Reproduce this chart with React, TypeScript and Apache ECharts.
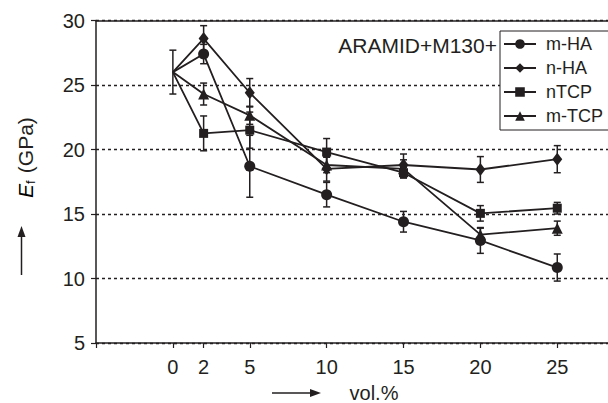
import React, { useEffect, useRef } from "react";
import * as echarts from "echarts";

const xValues = [0, 2, 5, 10, 15, 20, 25];
const seriesNames = ["m-HA", "n-HA", "nTCP", "m-TCP"];
const mHA = [26, 27.4, 18.7, 16.5, 14.4, 12.95, 10.85];
const mHAErr = [1.7, 0.75, 2.4, 0.95, 0.8, 1.0, 1.05];
const nHA = [26, 28.6, 24.4, 18.5, 18.8, 18.45, 19.25];
const nHAErr = [1.7, 1.0, 1.1, 0.95, 0.85, 1.0, 1.05];
const nTCP = [26, 21.25, 21.5, 19.8, 18.2, 15.05, 15.45];
const nTCPErr = [1.7, 1.35, 1.4, 1.05, 0.4, 0.6, 0.45];
const mTCP = [26, 24.3, 22.65, 18.8, 18.5, 13.4, 13.9];
const mTCPErr = [1.7, 0.85, 0.7, 0.6, 0.7, 0.5, 0.55];
const xTicks = [-5, 0, 2, 5, 10, 15, 20, 25];
const xLabels = [0, 2, 5, 10, 15, 20, 25];
const annotation = "ARAMID+M130+";
const xName = "vol.%";

const C = "#231f20";
const FONT = "'Liberation Sans', Arial, Helvetica, sans-serif";

const allValues = [mHA, nHA, nTCP, mTCP];
const allErr = [mHAErr, nHAErr, nTCPErr, mTCPErr];
const symbols = ["circle", "diamond", "rect", "triangle"];
const symbolSizes: any[] = [11, [10, 13], 9, 11];

export default function App() {
  const ref = useRef<HTMLDivElement>(null);
  useEffect(() => {
    if (!ref.current) return;
    const chart = echarts.init(ref.current, undefined, { renderer: "svg" });

    const errData: number[][] = [];
    allValues.forEach((vals, si) => {
      vals.forEach((v, i) => {
        if (i === 0 && si > 0) return;
        errData.push([xValues[i], v - allErr[si][i], v + allErr[si][i]]);
      });
    });

    const lineSeries = allValues.map((vals, si) => ({
      name: seriesNames[si],
      type: "line",
      symbol: symbols[si],
      symbolSize: symbolSizes[si],
      lineStyle: { color: C, width: 1.8 },
      itemStyle: { color: C },
      z: 3,
      data: vals.map((v, i) =>
        i === 0 ? { value: [xValues[i], v], symbol: "none" } : { value: [xValues[i], v] }
      ),
    }));

    const option: any = {
      animation: false,
      grid: { left: 96, right: 0, top: 20.5, bottom: 60, containLabel: false },
      legend: {
        data: seriesNames,
        orient: "vertical",
        left: 500,
        top: 31,
        z: 10,
        itemWidth: 32,
        itemHeight: 12,
        itemGap: 6,
        backgroundColor: "#fff",
        borderColor: C,
        borderWidth: 1,
        borderRadius: 0,
        padding: [4, 30, 5, 3],
        textStyle: { fontSize: 18, color: C, fontFamily: FONT, padding: [0, 0, 0, 5] },
      },
      xAxis: [
        {
          type: "value",
          min: -5,
          max: 28.3,
          interval: 5,
          axisLine: { show: true, onZero: false, lineStyle: { color: C, width: 1.5 } },
          axisTick: { show: true, customValues: xTicks, length: 5, lineStyle: { color: C, width: 1.2 } },
          axisLabel: {
            show: true,
            customValues: xLabels,
            margin: 14,
            fontSize: 20,
            color: C,
            fontFamily: FONT,
          },
          splitLine: { show: false },
        },
        {
          type: "value",
          position: "top",
          min: -5,
          max: 28.3,
          interval: 5,
          axisLine: { show: true, lineStyle: { color: C, width: 1.5 } },
          axisTick: { show: false },
          axisLabel: { show: false },
          splitLine: { show: false },
        },
      ],
      yAxis: [
        {
          type: "value",
          min: 5,
          max: 30,
          interval: 5,
          axisLine: { show: true, onZero: false, lineStyle: { color: C, width: 1.5 } },
          axisTick: { show: true, length: 5, lineStyle: { color: C, width: 1.2 } },
          axisLabel: { margin: 11, fontSize: 20, color: C, fontFamily: FONT },
          splitLine: { show: true, lineStyle: { color: C, width: 1.4, type: [3, 3] } },
        },
        {
          type: "value",
          position: "left",
          min: 5,
          max: 30,
          interval: 5,
          axisLine: { show: false },
          axisTick: { show: true, inside: true, length: 4, lineStyle: { color: C, width: 1.2 } },
          axisLabel: { show: false },
          splitLine: { show: false },
        },
      ],
      series: [
        ...lineSeries,
        {
          type: "custom",
          name: "err",
          z: 2,
          encode: { x: 0, y: [1, 2] },
          data: errData,
          renderItem: (params: any, api: any) => {
            const x = api.value(0);
            const lo = api.value(1);
            const hi = api.value(2);
            const p1 = api.coord([x, hi]);
            const p2 = api.coord([x, lo]);
            const w = 3.5;
            const st = { stroke: C, lineWidth: 1.5 };
            return {
              type: "group",
              children: [
                { type: "line", shape: { x1: p1[0], y1: p1[1], x2: p2[0], y2: p2[1] }, style: st },
                { type: "line", shape: { x1: p1[0] - w, y1: p1[1], x2: p1[0] + w, y2: p1[1] }, style: st },
                { type: "line", shape: { x1: p2[0] - w, y1: p2[1], x2: p2[0] + w, y2: p2[1] }, style: st },
              ],
            };
          },
        },
      ],
      graphic: [
        {
          type: "text",
          x: 497,
          y: 45.5,
          z: 20,
          style: {
            text: annotation,
            fontSize: 21,
            fontFamily: FONT,
            fill: C,
            align: "right",
            verticalAlign: "middle",
          },
        },
        {
          type: "group",
          x: 25,
          y: 158,
          rotation: Math.PI / 2,
          children: [
            {
              type: "text",
              x: -40,
              y: 0,
              style: {
                text: "E",
                fontSize: 21,
                fontStyle: "italic",
                fontFamily: FONT,
                fill: "#000",
                align: "left",
                verticalAlign: "middle",
              },
            },
            {
              type: "text",
              x: -26,
              y: 5,
              style: {
                text: "f",
                fontSize: 13,
                fontFamily: FONT,
                fill: "#000",
                align: "left",
                verticalAlign: "middle",
              },
            },
            {
              type: "text",
              x: -21,
              y: 0,
              style: {
                text: " (GPa)",
                fontSize: 21,
                fontFamily: FONT,
                fill: C,
                align: "left",
                verticalAlign: "middle",
              },
            },
          ],
        },
        {
          type: "line",
          shape: { x1: 21.5, y1: 275, x2: 21.5, y2: 236 },
          style: { stroke: C, lineWidth: 1.5 },
        },
        {
          type: "polygon",
          shape: { points: [[21.5, 226], [17.5, 237], [25.5, 237]] },
          style: { fill: C },
        },
        {
          type: "line",
          shape: { x1: 272, y1: 393, x2: 311, y2: 393 },
          style: { stroke: C, lineWidth: 1.5 },
        },
        {
          type: "polygon",
          shape: { points: [[321, 393], [310, 389], [310, 397]] },
          style: { fill: C },
        },
        {
          type: "text",
          x: 374,
          y: 393,
          style: {
            text: xName,
            fontSize: 20,
            fontFamily: FONT,
            fill: C,
            align: "center",
            verticalAlign: "middle",
          },
        },
      ],
    };
    chart.setOption(option);
    return () => chart.dispose();
  }, []);
  return (
    <div
      ref={ref}
      style={{ position: "absolute", left: 0, top: 0, width: 608, height: 403, background: "#fff" }}
    />
  );
}
